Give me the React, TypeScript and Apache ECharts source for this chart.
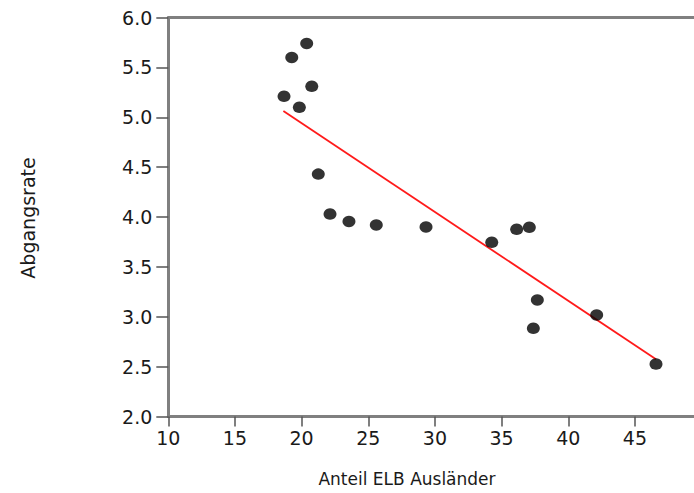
import React, { useEffect, useRef } from "react";
import * as echarts from "echarts";

const xValues = [18.68, 19.26, 20.38, 19.83, 20.76, 21.25, 22.13, 23.55, 25.6, 29.33, 34.26, 36.13, 37.08, 37.68, 37.38, 42.13, 46.58];
const yValues = [5.21, 5.60, 5.74, 5.10, 5.31, 4.43, 4.03, 3.955, 3.92, 3.90, 3.746, 3.877, 3.897, 3.168, 2.884, 3.018, 2.526];
const fitX = [18.63, 46.58];
const fitY = [5.063, 2.573];
const xTitle = "Anteil ELB Ausländer";
const yTitle = "Abgangsrate";

export default function App() {
  const ref = useRef<HTMLDivElement>(null);
  useEffect(() => {
    if (!ref.current) return;
    const chart = echarts.init(ref.current, null, { renderer: "svg" });
    const font = "DejaVu Sans";
    const axisColor = "#808080";
    chart.setOption({
      animation: false,
      backgroundColor: "#ffffff",
      grid: { left: 168.3, right: 10.4, top: 17.5, bottom: 76.5, outerBoundsMode: "none", containLabel: false },
      xAxis: [
        {
          type: "value",
          min: 10,
          max: 50,
          interval: 5,
          axisLine: { show: true, onZero: false, lineStyle: { color: axisColor, width: 3 } },
          axisTick: { show: true, length: 10, lineStyle: { color: "#555", width: 1.5 } },
          axisLabel: { show: true, showMaxLabel: false, margin: 12, color: "#1a1a1a", fontFamily: font, fontSize: 19 },
          splitLine: { show: false },
        },
        {
          type: "value",
          position: "top",
          min: 10,
          max: 50,
          interval: 5,
          axisLine: { show: true, onZero: false, lineStyle: { color: axisColor, width: 3 } },
          axisTick: { show: false },
          axisLabel: { show: false },
          splitLine: { show: false },
        },
      ],
      yAxis: {
        type: "value",
        min: 2,
        max: 6,
        interval: 0.5,
        axisLine: { show: true, onZero: false, lineStyle: { color: axisColor, width: 3 } },
        axisTick: { show: true, length: 12, lineStyle: { color: "#555", width: 1.5 } },
        axisLabel: {
          margin: 16,
          color: "#1a1a1a",
          fontFamily: font,
          fontSize: 19,
          formatter: (v: number) => v.toFixed(1),
        },
        splitLine: { show: false },
      },
      graphic: [
        {
          type: "text",
          x: 407,
          y: 479,
          style: { text: xTitle, fill: "#1a1a1a", font: `17px '${font}'`, textAlign: "center", textVerticalAlign: "middle" },
        },
        {
          type: "text",
          x: 28,
          y: 218,
          rotation: Math.PI / 2,
          style: { text: yTitle, fill: "#1a1a1a", font: `19px '${font}'`, textAlign: "center", textVerticalAlign: "middle" },
        },
      ],
      series: [
        {
          type: "line",
          data: fitX.map((x, i) => [x, fitY[i]]),
          showSymbol: false,
          symbol: "none",
          lineStyle: { color: "#ff1a1a", width: 1.8 },
          z: 1,
          silent: true,
        },
        {
          type: "scatter",
          data: xValues.map((x, i) => [x, yValues[i]]),
          symbol: "circle",
          symbolSize: [13, 11.5],
          itemStyle: { color: "#000000" },
          z: 2,
        },
      ],
    });
    return () => chart.dispose();
  }, []);
  return (
    <div style={{ position: "fixed", left: 0, top: 0, width: 694, height: 493, overflow: "hidden", background: "#fff" }}>
      <div ref={ref} style={{ width: 712, height: 493 }} />
    </div>
  );
}
